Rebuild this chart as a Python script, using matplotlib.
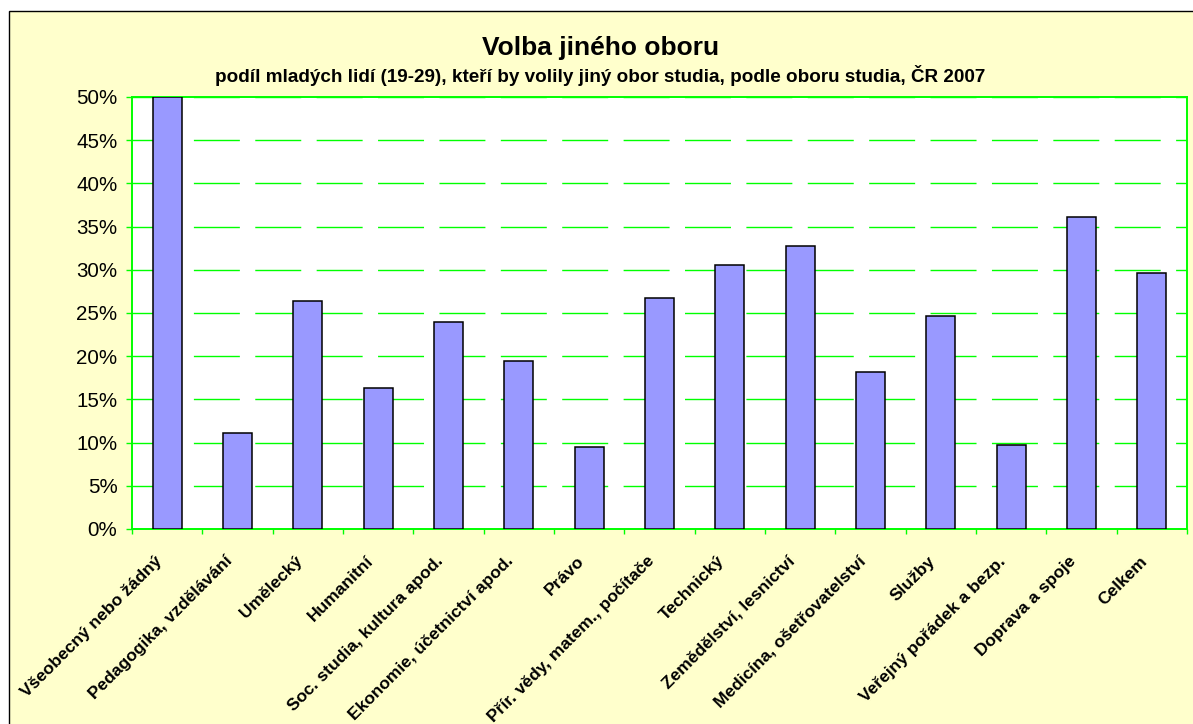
import matplotlib
matplotlib.use("Agg")
import matplotlib.pyplot as plt
import matplotlib.transforms as mtrans
from matplotlib.patches import Rectangle
from matplotlib.ticker import FuncFormatter, MultipleLocator
import numpy as np

plt.rcParams['font.family'] = ['Liberation Sans', 'DejaVu Sans']
plt.rcParams['lines.scale_dashes'] = False

categories = [
    "Všeobecný nebo žádný", "Pedagogika, vzdělávání", "Umělecký", "Humanitní",
    "Soc. studia, kultura apod.", "Ekonomie, účetnictví apod.", "Právo",
    "Přír. vědy, matem., počítače", "Technický", "Zemědělství, lesnictví",
    "Medicína, ošetřovatelství", "Služby", "Veřejný pořádek a bezp.",
    "Doprava a spoje", "Celkem",
]
values = [50.0, 11.1, 26.4, 16.3, 24.0, 19.5, 9.5, 26.7, 30.5, 32.8, 18.2, 24.7, 9.7, 36.1, 29.6]
yticks = [0, 5, 10, 15, 20, 25, 30, 35, 40, 45, 50]

title = "Volba jiného oboru"
subtitle = "podíl mladých lidí (19-29), kteří by volily jiný obor studia, podle oboru studia, ČR 2007"

W, H = 1193, 724
fig = plt.figure(figsize=(W / 100, H / 100), dpi=100, facecolor='white')

# chart area background with border (left/top visible)
bg = Rectangle((9 / W, -0.02), 1.1, (H - 11) / H + 0.02, transform=fig.transFigure,
               facecolor='#FFFFCC', edgecolor='black', linewidth=1.0, zorder=-10)
fig.patches.append(bg)

left, right, top, bottom = 132, 1187, 97, 529
ax = fig.add_axes([left / W, (H - bottom) / H, (right - left) / W, (bottom - top) / H])
ax.set_zorder(5)
ax.set_facecolor('white')

x = np.arange(len(categories))
ax.bar(x, values, width=0.41, color='#9999FF', edgecolor='black', linewidth=1.1, zorder=3)

ax.set_xlim(-0.5, len(categories) - 0.5)
ax.set_ylim(0, 50)
ax.set_yticks(yticks)
ax.yaxis.set_major_formatter(FuncFormatter(lambda v, p: f"{int(v)}%"))

ax.grid(axis='y', color='#00FF00', linewidth=1.0, linestyle=(0, (33.1, 11.1)), zorder=1)
ax.set_axisbelow(True)

for s in ax.spines.values():
    s.set_color('#00FF00')
    s.set_linewidth(1.4)

ax.tick_params(axis='y', direction='out', length=4.5, width=1.0, color='#00FF00',
               labelsize=14.8, pad=6.0, labelcolor='black')
ax.set_xticks(x)
ax.set_xticklabels(categories, rotation=45, ha='right', va='center', rotation_mode='anchor',
                   fontsize=12.5, fontweight='bold')
ax.tick_params(axis='x', which='major', length=0, pad=21)
ax.xaxis.set_minor_locator(MultipleLocator(1, offset=0.5))
ax.tick_params(axis='x', which='minor', direction='out', length=3.5, width=1.0, color='#00FF00')

offset = mtrans.ScaledTranslation(-0.075, -0.005, fig.dpi_scale_trans)
for lab in ax.get_xticklabels():
    lab.set_transform(lab.get_transform() + offset)

fig.text(0.503, (H - 47.5) / H, title, ha='center', va='center', fontsize=19, fontweight='bold')
fig.text(0.503, (H - 75.5) / H, subtitle, ha='center', va='center', fontsize=13.6, fontweight='bold')

fig.savefig('out.png', dpi=100, facecolor=fig.get_facecolor())
